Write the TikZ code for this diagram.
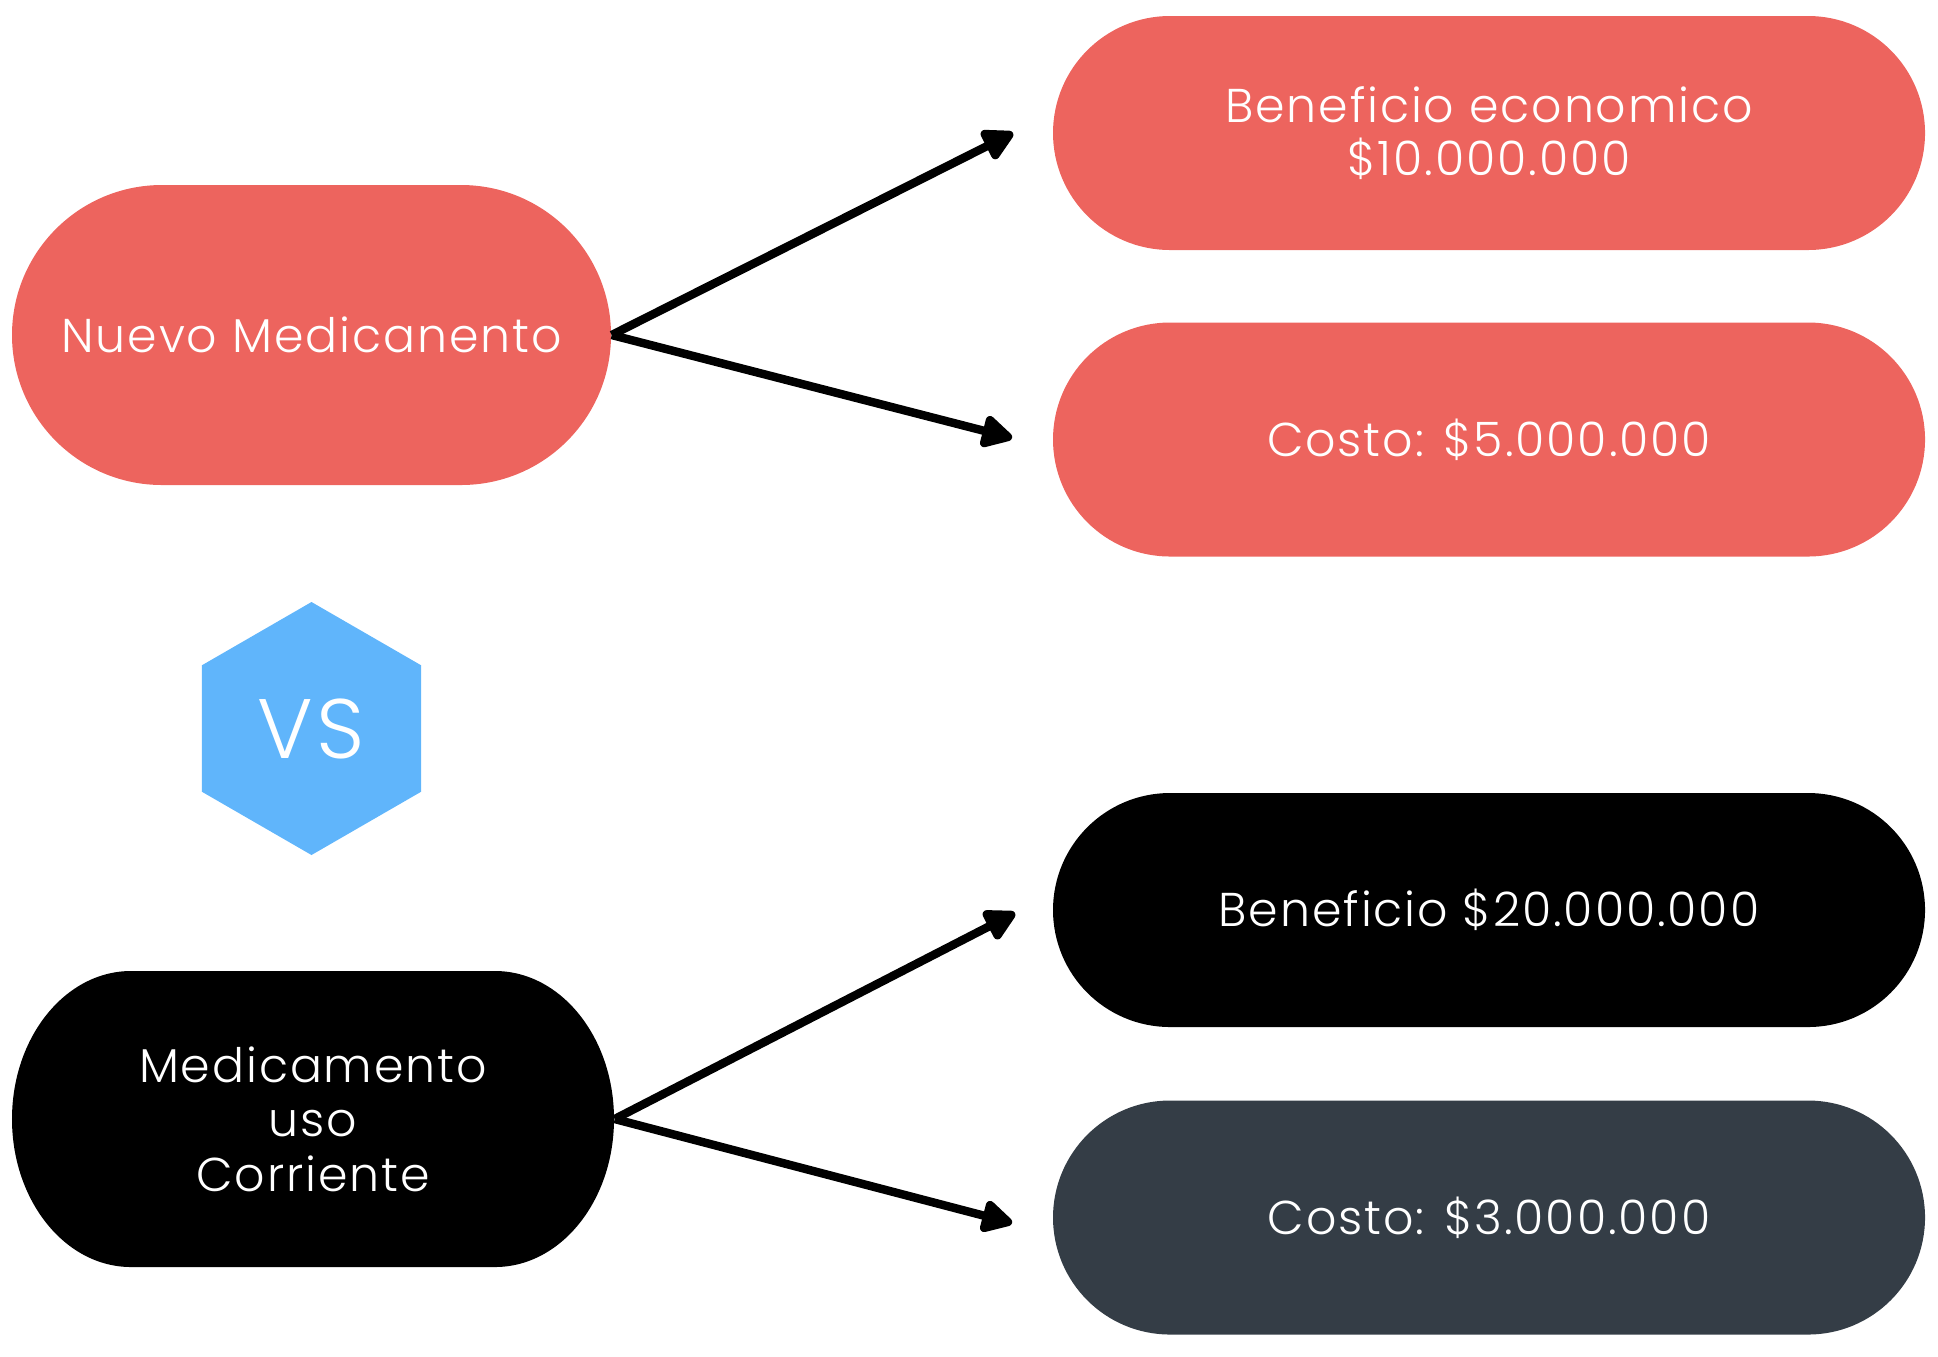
\documentclass[tikz,border=0pt]{standalone}
\usepackage{fontspec}
\setmainfont{Poppins}[UprightFont=* Light, LetterSpace=4]
\usetikzlibrary{shapes.misc,shapes.geometric,arrows.meta}
\definecolor{salmon}{RGB}{237,100,94}
\definecolor{skyblue}{RGB}{96,181,251}
\definecolor{slate}{RGB}{52,61,70}

\begin{document}
\begin{tikzpicture}
      [   pill/.style={rounded rectangle,fill=#1,text=white,inner sep=0pt,minimum width=8.72cm,minimum height=2.34cm,align=center,font=\fontsize{13.5}{15}\selectfont},
          arrow/.style={line width=2.4pt,-{Triangle[length=10pt,width=10pt,round]}},
      ]
          \useasboundingbox (0,0) rectangle (19.38,-13.56);

          % nuevo medicamento
          \node[pill=salmon,minimum width=5.99cm,minimum height=3cm] (nuevo) at (3.115,-3.35) {Nuevo Medicanento};
          \node[pill=salmon] (benefnuevo) at (14.89,-1.33) {Beneficio economico\\\$10.000.000};
          \node[pill=salmon] (costonuevo) at (14.89,-4.395) {Costo: \$5.000.000};

          \node[regular polygon,regular polygon sides=6,shape border rotate=30,fill=skyblue,text=white,inner sep=0pt,minimum size=2.53cm,font=\fontsize{24}{24}\selectfont] (vs) at (3.115,-7.285) {VS};

          % medicamento corriente
          \fill[black] (1.31,-9.71) -- (4.95,-9.71) arc[start angle=90,end angle=-90,x radius=1.19,y radius=1.48]
              -- (1.31,-12.67) arc[start angle=270,end angle=90,x radius=1.19,y radius=1.48] -- cycle;
          \node[text=white,align=center,minimum width=6.02cm,minimum height=2.96cm,inner sep=0pt,font=\fontsize{13.5}{15.5}\selectfont] (corriente) at (3.13,-11.19) {Medicamento\\uso\\Corriente};
          \node[pill=black] (benefcorr) at (14.89,-9.10) {Beneficio \$20.000.000};
          \node[pill=slate] (costocorr) at (14.89,-12.175) {Costo: \$3.000.000};

          \coordinate (tipa) at (10.13,-1.33);
          \coordinate (tipb) at (10.12,-4.38);
          \coordinate (tipc) at (10.15,-9.13);
          \coordinate (tipd) at (10.12,-12.23);

          \draw[arrow] (nuevo.east) -- (tipa);
          \draw[arrow] (nuevo.east) -- (tipb);
          \draw[arrow] (corriente.east) -- (tipc);
          \draw[arrow] (corriente.east) -- (tipd);
\end{tikzpicture}
\end{document}
